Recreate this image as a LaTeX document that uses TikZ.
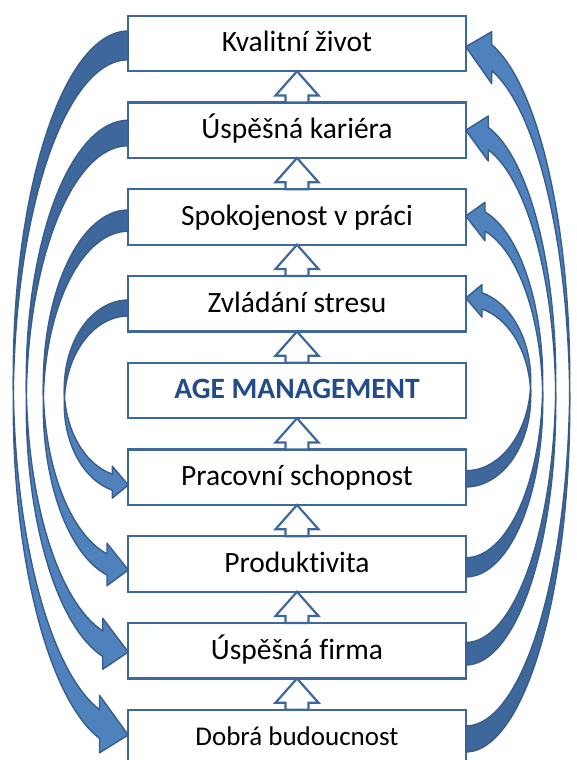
\documentclass[tikz,border=0pt]{standalone}
\usepackage{fontspec}
\setmainfont{Carlito}[Ligatures=NoCommon]
\usetikzlibrary{positioning,calc}
\definecolor{boxblue}{RGB}{62,104,156}
\definecolor{edgeblue}{RGB}{56,93,138}
\definecolor{arrowblue}{RGB}{79,129,189}
\definecolor{arrowdark}{RGB}{62,103,155}
\definecolor{agetext}{RGB}{35,75,135}
\tikzstyle{box} = [draw=boxblue, line width=2.4pt, fill=white, minimum width=337.5pt, minimum height=55.5pt, inner sep=0pt, outer sep=0pt, text height=19pt, text depth=2pt, font=\fontsize{29.5}{32}\selectfont]
\tikzstyle{uparrow} = [draw=boxblue, line width=2.2pt, fill=white, line join=miter]
\tikzstyle{front} = [fill=arrowblue, draw=edgeblue, line width=1.4pt, line join=round]
\tikzstyle{back} = [fill=arrowdark, draw=edgeblue, line width=1.4pt, line join=round]
% curved band arrow: from, to, anchor, width, base offset, tip offset, turn
\newcommand{\bentarrow}[7]{%
  \path (#1.#3) ++(0,#5) coordinate (arrbase) (#2.#3) ++(0,#6) coordinate (arrtip);
  \pgfpointdiff{\pgfpointanchor{arrtip}{center}}{\pgfpointanchor{arrbase}{center}}%
  \pgfgetlastxy{\ddx}{\ddy}%
  \pgfmathsetmacro{\drop}{abs(\ddy)}%
  \pgfmathsetmacro{\thk}{0.25*#4}%
  \pgfmathsetmacro{\hw}{0.5*#4}%
  \pgfmathsetmacro{\hl}{0.25*#4}%
  \pgfmathsetmacro{\hR}{(\drop+\hw/2)/2-(\thk+\hw)/4}%
  \pgfmathsetmacro{\bet}{acos(\hl/#4)}%
  \pgfmathsetmacro{\dyy}{\hR*sin(\bet)}%
  \pgfmathsetmacro{\epsang}{asin(\thk/(2*\hR))}%
  \pgfmathsetmacro{\dh}{(\hw-\thk)/2}%
  \begin{scope}[shift={(arrbase)}, rotate=#7]
    \filldraw[front] (-#4,{-\hR}) arc[start angle=180, end angle={180+\bet}, x radius=#4, y radius=\hR]
      -- ({-\hl},{-\hR-\dyy+\dh}) -- (0,{-\drop}) -- ({-\hl},{-\hR-\thk-\dyy-\dh}) -- ({-\hl},{-\hR-\thk-\dyy})
      arc[start angle={180+\bet}, end angle=180, x radius=#4, y radius=\hR] -- cycle;
    \filldraw[back] (0,{-\thk}) arc[start angle=90, end angle={180-\epsang}, x radius=#4, y radius=\hR]
      arc[start angle={180+\epsang}, end angle=90, x radius=#4, y radius=\hR] -- cycle;
  \end{scope}
}

\begin{document}
\begin{tikzpicture}[x=1pt,y=1pt]
\useasboundingbox (0,0) rectangle (576,760);

\node[box] (b1) at (297,716.5) {Kvalitní život};
\node[box,below=31.25pt of b1] (b2) {Úspěšná kariéra};
\node[box,below=31.25pt of b2] (b3) {Spokojenost v práci};
\node[box,below=31.25pt of b3] (b4) {Zvládání stresu};
\node[box,below=31.25pt of b4,text=agetext] (b5) {\bfseries AGE MANAGEMENT};
\node[box,below=31.25pt of b5] (b6) {Pracovní schopnost};
\node[box,below=31.25pt of b6] (b7) {Produktivita};
\node[box,below=31.25pt of b7] (b8) {Úspěšná firma};
\node[box,below=31.25pt of b8,font=\fontsize{27}{29}\selectfont] (b9) {Dobrá budoucnost};

% hollow arrows between the boxes
\foreach \lo/\up in {b2/b1,b3/b2,b4/b3,b5/b4,b6/b5,b7/b6,b8/b7,b9/b8}
  \draw[uparrow] ($(\lo.north)+(-11.5,0)$) -- ++(0,7) -- ++(-10,0) -- (\up.south)
    -- ++(21.5,-24.25) -- ++(-10,0) -- ($(\lo.north)+(11.5,0)$) -- cycle;

% left side, going down
\bentarrow{b1}{b9}{west}{115}{12.5}{2.5}{0}
\bentarrow{b2}{b8}{west}{102}{10}{-1.25}{0}
\bentarrow{b3}{b7}{west}{85}{7}{-6}{0}
\bentarrow{b4}{b6}{west}{64}{3.75}{-7.75}{0}

% right side, going up
\bentarrow{b9}{b1}{east}{104}{-14.5}{-3.2}{180}
\bentarrow{b8}{b2}{east}{90}{-14.25}{0}{180}
\bentarrow{b7}{b3}{east}{77}{-13}{1}{180}
\bentarrow{b6}{b4}{east}{65}{-9.75}{5.75}{180}
\end{tikzpicture}
\end{document}
